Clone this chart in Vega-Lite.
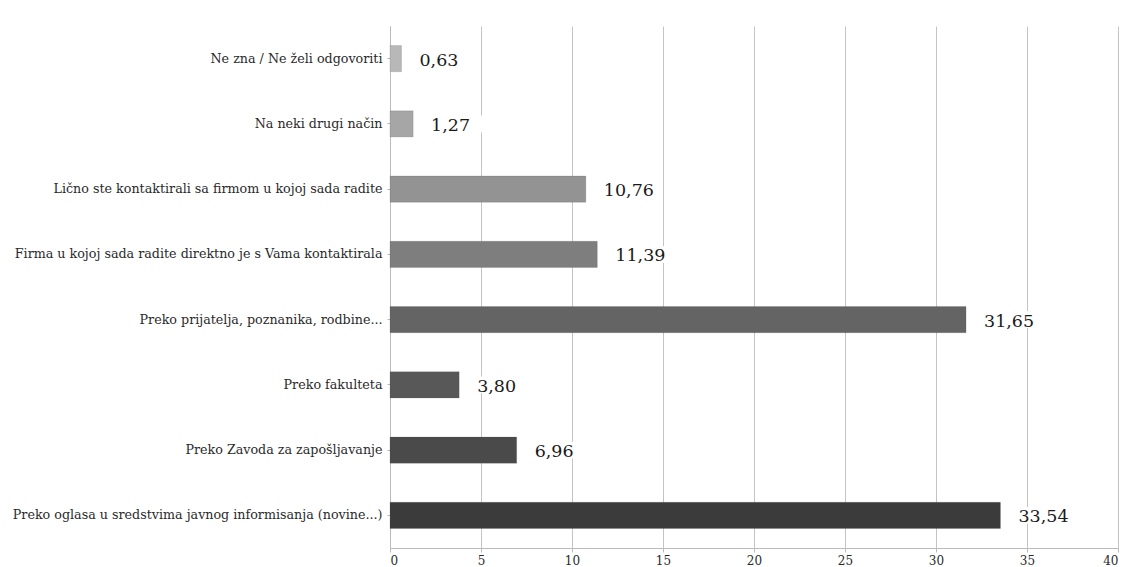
{
  "$schema": "https://vega.github.io/schema/vega-lite/v6.json",
  "autosize": {"type": "none"},
  "width": 728,
  "height": 522,
  "padding": {"left": 390, "top": 26, "right": 7, "bottom": 19},
  "background": "white",
  "config": {"view": {"stroke": null}, "font": "DejaVu Serif"},
  "data": {"values": [
    {"cat": "Ne zna / Ne želi odgovoriti", "value": 0.63, "label": "0,63", "shade": "a"},
    {"cat": "Na neki drugi način", "value": 1.27, "label": "1,27", "shade": "b"},
    {"cat": "Lično ste kontaktirali sa firmom u kojoj sada radite", "value": 10.76, "label": "10,76", "shade": "c"},
    {"cat": "Firma u kojoj sada radite direktno je s Vama kontaktirala", "value": 11.39, "label": "11,39", "shade": "d"},
    {"cat": "Preko prijatelja, poznanika, rodbine...", "value": 31.65, "label": "31,65", "shade": "e"},
    {"cat": "Preko fakulteta", "value": 3.80, "label": "3,80", "shade": "f"},
    {"cat": "Preko Zavoda za zapošljavanje", "value": 6.96, "label": "6,96", "shade": "g"},
    {"cat": "Preko oglasa u sredstvima javnog informisanja (novine...)", "value": 33.54, "label": "33,54", "shade": "h"}
  ]},
  "encoding": {
    "y": {"field": "cat", "type": "nominal", "sort": null,
      "scale": {"paddingInner": 0.6, "paddingOuter": 0.3},
      "axis": {"title": null, "labelFont": "DejaVu Serif", "labelFontSize": 12.7, "labelColor": "#2a2a2a", "labelLimit": 400, "labelPadding": 5, "domainColor": "#bbb", "tickColor": "#bbb", "tickSize": 3, "grid": false}},
    "x": {"field": "value", "type": "quantitative",
      "scale": {"domain": [0, 40], "nice": false},
      "axis": {"title": null, "values": [0,5,10,15,20,25,30,35,40], "labelFont": "DejaVu Serif", "labelFontSize": 12, "labelColor": "#2a2a2a", "gridColor": "#c4c4c4", "domainColor": "#bbb", "tickColor": "#bbb", "tickSize": 4, "labelPadding": 3}}
  },
  "layer": [
    {"mark": {"type": "bar", "stroke": "#555", "strokeWidth": 0.5, "strokeOpacity": 0.4},
     "encoding": {"color": {"field": "shade", "type": "nominal", "legend": null,
       "scale": {"domain": ["a","b","c","d","e","f","g","h"], "range": ["#b8b8b8","#a6a6a6","#939393","#7e7e7e","#646464","#585858","#4a4a4a","#3b3b3b"]}}}},
    {"mark": {"type": "point", "shape": "M-1,-0.28L1,-0.28L1,0.28L-1,0.28Z", "size": 3600, "filled": true, "color": "white", "opacity": 1, "xOffset": 47},
     "encoding": {}},
    {"mark": {"type": "text", "align": "left", "baseline": "middle", "dx": 18, "dy": 2, "fontSize": 17.5, "font": "DejaVu Serif", "color": "#1a1a1a"},
     "encoding": {"text": {"field": "label"}}}
  ]
}
